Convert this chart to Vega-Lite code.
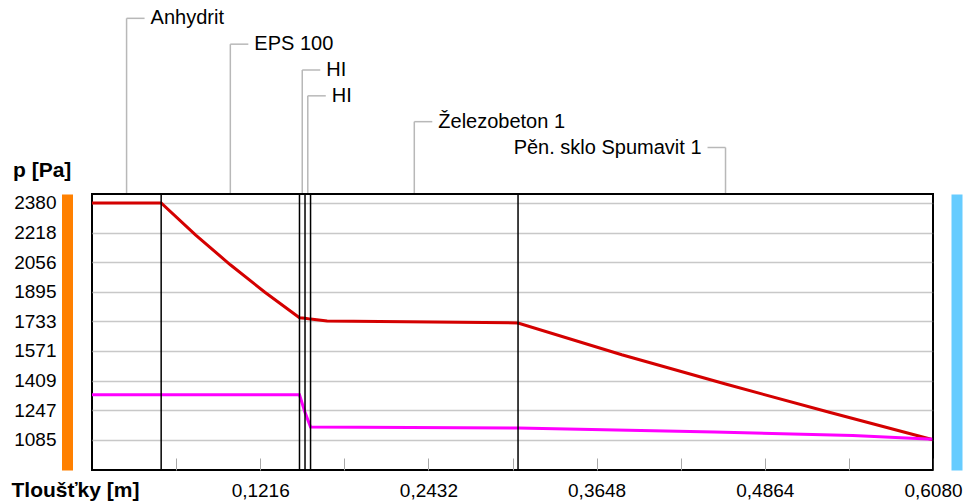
{
  "$schema": "https://vega.github.io/schema/vega-lite/v6.json",
  "background": "white",
  "padding": {"left": 10, "top": 8, "right": 0, "bottom": 0},
  "config": {"view": {"stroke": null}, "font": "Liberation Sans", "axis": {"labelColor": "black", "titleColor": "black"}},
  "spacing": 0,
  "bounds": "flush",
  "resolve": {"scale": {"x": "independent", "y": "independent"}},
  "datasets": {
    "layers": [
      {"name": "Anhydrit", "from": 0, "to": 0.05, "row": 6},
      {"name": "EPS 100", "from": 0.05, "to": 0.15, "row": 5},
      {"name": "HI", "from": 0.15, "to": 0.154, "row": 4},
      {"name": "HI", "from": 0.154, "to": 0.158, "row": 3},
      {"name": "Železobeton 1", "from": 0.158, "to": 0.308, "row": 2},
      {"name": "Pěn. sklo Spumavit 1", "from": 0.308, "to": 0.608, "row": 1}
    ],
    "profile": [
      {"series": "p_sat", "x": 0, "p": 2380},
      {"series": "p_sat", "x": 0.05, "p": 2380},
      {"series": "p_sat", "x": 0.075, "p": 2204},
      {"series": "p_sat", "x": 0.1, "p": 2042},
      {"series": "p_sat", "x": 0.125, "p": 1892},
      {"series": "p_sat", "x": 0.15, "p": 1752},
      {"series": "p_sat", "x": 0.154, "p": 1750},
      {"series": "p_sat", "x": 0.158, "p": 1745},
      {"series": "p_sat", "x": 0.17, "p": 1735},
      {"series": "p_sat", "x": 0.308, "p": 1724},
      {"series": "p_sat", "x": 0.383, "p": 1550},
      {"series": "p_sat", "x": 0.458, "p": 1390},
      {"series": "p_sat", "x": 0.533, "p": 1236},
      {"series": "p_sat", "x": 0.608, "p": 1085},
      {"series": "p", "x": 0, "p": 1331},
      {"series": "p", "x": 0.15, "p": 1331},
      {"series": "p", "x": 0.154, "p": 1235},
      {"series": "p", "x": 0.158, "p": 1155},
      {"series": "p", "x": 0.308, "p": 1150},
      {"series": "p", "x": 0.45, "p": 1128},
      {"series": "p", "x": 0.55, "p": 1108},
      {"series": "p", "x": 0.608, "p": 1088}
    ]
  },
  "vconcat": [
    {
      "width": 841,
      "height": 186,
      "data": {"name": "layers"},
      "transform": [
        {"fold": ["from", "to"]},
        {"aggregate": [{"op": "mean", "field": "value", "as": "mid"}], "groupby": ["name", "row"]}
      ],
      "layer": [
        {
          "mark": {"type": "rule", "color": "#b8b8b8", "strokeWidth": 1.5},
          "encoding": {
            "x": {"field": "mid", "type": "quantitative", "scale": {"domain": [0, 0.608], "nice": false, "zero": false}, "axis": null},
            "y": {"field": "row", "type": "quantitative", "scale": {"domain": [-0.8, 6.4], "nice": false, "zero": false}, "axis": null},
            "y2": {"datum": -0.8}
          }
        },
        {
          "transform": [{"filter": "datum.name != 'Pěn. sklo Spumavit 1'"}],
          "mark": {"type": "rule", "color": "#b8b8b8", "strokeWidth": 1.5, "x2Offset": 18},
          "encoding": {
            "x": {"field": "mid", "type": "quantitative"},
            "x2": {"field": "mid"},
            "y": {"field": "row", "type": "quantitative"}
          }
        },
        {
          "transform": [{"filter": "datum.name == 'Pěn. sklo Spumavit 1'"}],
          "mark": {"type": "rule", "color": "#b8b8b8", "strokeWidth": 1.5, "x2Offset": -18},
          "encoding": {
            "x": {"field": "mid", "type": "quantitative"},
            "x2": {"field": "mid"},
            "y": {"field": "row", "type": "quantitative"}
          }
        },
        {
          "transform": [{"filter": "datum.name != 'Pěn. sklo Spumavit 1'"}],
          "mark": {"type": "text", "align": "left", "baseline": "middle", "dx": 24, "fontSize": 20, "color": "black"},
          "encoding": {
            "x": {"field": "mid", "type": "quantitative"},
            "y": {"field": "row", "type": "quantitative"},
            "text": {"field": "name", "type": "nominal"}
          }
        },
        {
          "transform": [{"filter": "datum.name == 'Pěn. sklo Spumavit 1'"}],
          "mark": {"type": "text", "align": "right", "baseline": "middle", "dx": -24, "fontSize": 20, "color": "black"},
          "encoding": {
            "x": {"field": "mid", "type": "quantitative"},
            "y": {"field": "row", "type": "quantitative"},
            "text": {"field": "name", "type": "nominal"}
          }
        }
      ]
    },
    {
      "width": 841,
      "height": 276,
      "view": {"stroke": "black", "strokeWidth": 2},
      "resolve": {"axis": {"y": "independent"}},
      "layer": [
        {
          "data": {"name": "profile"},
          "transform": [{"filter": "datum.series == 'p_sat'"}],
          "mark": {"type": "line", "color": "#d40000", "strokeWidth": 3},
          "encoding": {
            "x": {
              "field": "x", "type": "quantitative",
              "scale": {"domain": [0, 0.608], "nice": false, "zero": false},
              "axis": {
                "values": [0.0608, 0.1216, 0.1824, 0.2432, 0.304, 0.3648, 0.4256, 0.4864, 0.5472, 0.608],
                "labelExpr": "round(datum.value / 0.0608) % 2 == 0 ? replace(format(datum.value, '.4f'), '.', ',') : ''",
                "domain": false,
                "grid": false,
                "tickColor": "#a8a8a8",
                "tickSize": -12,
                "tickWidth": 1,
                "labelPadding": 32,
                "labelBaseline": "middle",
                "labelFontSize": 19,
                "labelFlush": false,
                "labelOverlap": false,
                "title": "Tloušťky [m]",
                "titleX": -81,
                "titleY": 20,
                "titleAlign": "left",
                "titleBaseline": "middle",
                "titleAnchor": "start",
                "titleFontSize": 21,
                "titleFontWeight": "bold"
              }
            },
            "y": {
              "field": "p", "type": "quantitative",
              "scale": {"domain": [920, 2429], "nice": false, "zero": false},
              "axis": {
                "orient": "left",
                "values": [1085, 1247, 1409, 1571, 1733, 1895, 2056, 2218, 2380],
                "format": "d",
                "offset": 25,
                "domainColor": "#ff8000",
                "domainWidth": 11,
                "domainCap": "butt",
                "ticks": false,
                "tickSize": 0,
                "labelPadding": 11,
                "labelFontSize": 19,
                "labelOverlap": false,
                "grid": true,
                "gridColor": "#c8c8c8",
                "gridWidth": 1.5,
                "title": "p [Pa]",
                "titleAngle": 0,
                "titleAlign": "left",
                "titleBaseline": "middle",
                "titleAnchor": "start",
                "titleX": -54.5,
                "titleY": -24,
                "titleFontSize": 21,
                "titleFontWeight": "bold"
              }
            }
          }
        },
        {
          "data": {"name": "profile"},
          "transform": [{"filter": "datum.series == 'p'"}],
          "mark": {"type": "line", "color": "#ff00ff", "strokeWidth": 3},
          "encoding": {
            "x": {"field": "x", "type": "quantitative"},
            "y": {
              "field": "p", "type": "quantitative",
              "axis": {
                "orient": "right",
                "offset": 23.5,
                "domainColor": "#66ccff",
                "domainWidth": 11,
                "domainCap": "butt",
                "ticks": false,
                "labels": false,
                "grid": false,
                "title": null
              }
            }
          }
        },
        {
          "data": {"name": "layers"},
          "mark": {"type": "rule", "color": "black", "strokeWidth": 1.5},
          "encoding": {"x": {"field": "to", "type": "quantitative"}}
        }
      ]
    }
  ]
}
